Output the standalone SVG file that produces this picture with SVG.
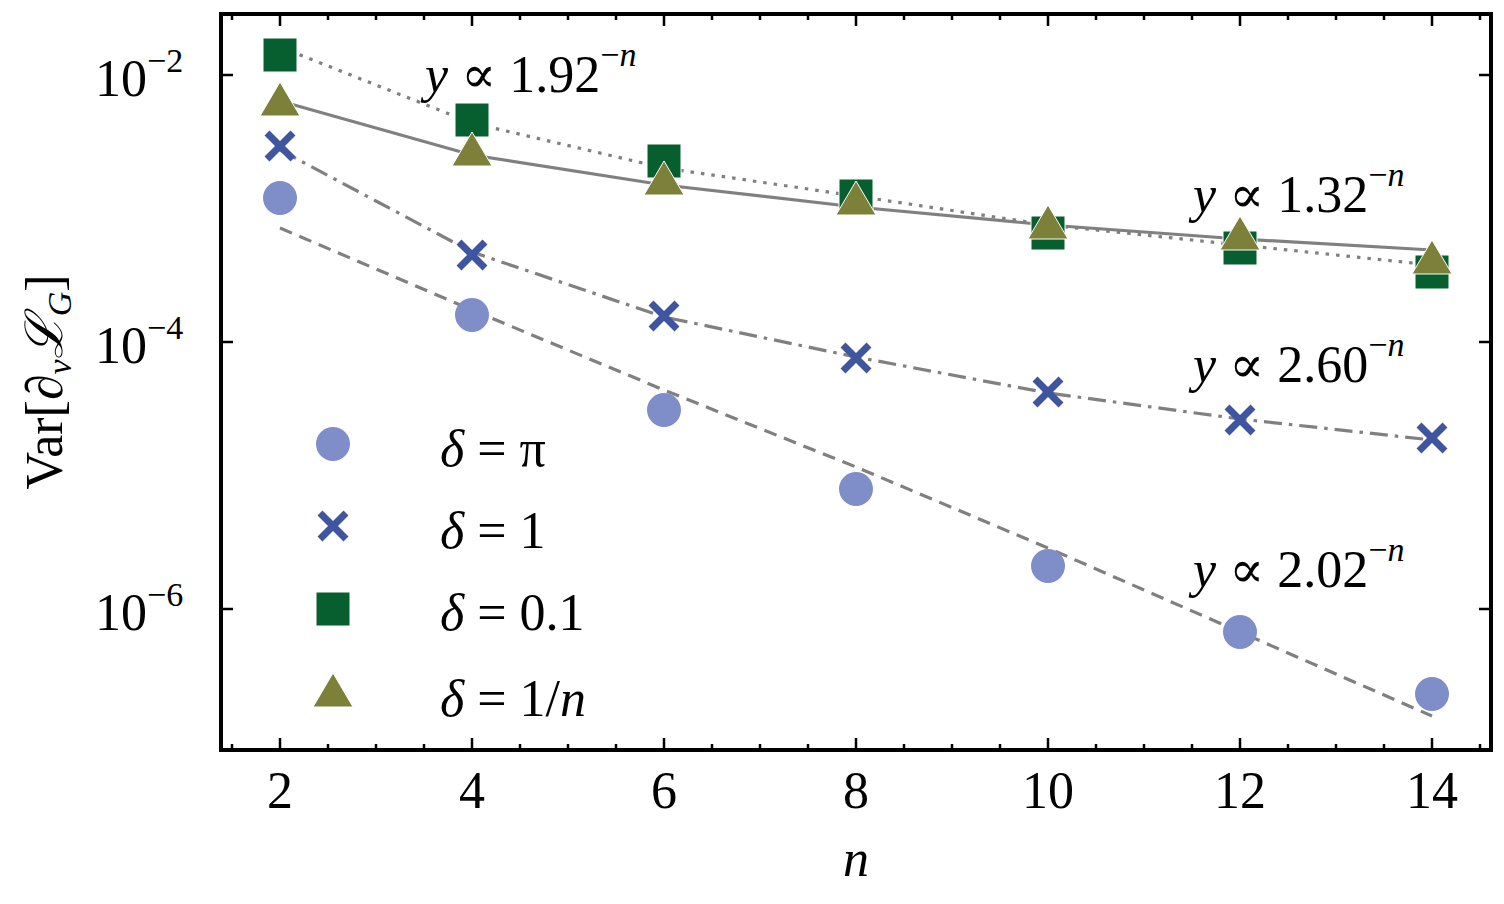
<svg xmlns="http://www.w3.org/2000/svg" width="1504" height="904" viewBox="0 0 1504 904">
<style>
text{font-family:"Liberation Serif","DejaVu Serif",serif;fill:#000}
.tk{font-size:52px}
.sup{font-size:34px}
.ann{font-size:52px}
.fit{fill:none;stroke:#808080;stroke-width:3.2}
.sq{fill:#075e2f;stroke:#fff;stroke-width:1}
.tr{fill:#7d8039;stroke:#fff;stroke-width:1}
.x{stroke:#3f55a0;stroke-width:7;fill:none}
.ci{fill:#7f8ec8}
.ax{stroke:#000;stroke-width:2.5}
</style>
<defs>
<rect id="sq" class="sq" x="-17" y="-17" width="34" height="34"/>
<polygon id="tr" class="tr" points="0,-21 20,13 -20,13"/>
<path id="xm" class="x" d="M-13,-13L13,13M-13,13L13,-13"/>
<circle id="ci" class="ci" r="17"/>
</defs>
<g id="connectors">
<polyline class="fit" stroke-dasharray="3.5,7" points="280,47 472,123 664,168 856,196 1048,225 1240,245 1432,265"/>
<polyline class="fit" points="280,101 472,155 664,185 856,207 1048,225 1240,239 1432,250"/>
<polyline class="fit" stroke-dasharray="18,7,3.5,7" points="280,150 472,252 664,317 856,357 1048,393 1240,419 1432,440"/>
<polyline class="fit" stroke-dasharray="13,8" points="280,228 472,310 664,390 856,467 1048,548 1240,632 1432,716"/>
</g>
<g id="squares">
<use href="#sq" x="280" y="55"/><use href="#sq" x="472" y="120"/><use href="#sq" x="664" y="161"/><use href="#sq" x="856" y="196"/><use href="#sq" x="1048" y="233"/><use href="#sq" x="1240" y="248"/><use href="#sq" x="1432" y="272"/>
</g>
<g id="triangles">
<use href="#tr" x="280" y="103"/><use href="#tr" x="472" y="153"/><use href="#tr" x="664" y="182"/><use href="#tr" x="856" y="202"/><use href="#tr" x="1048" y="226"/><use href="#tr" x="1240" y="237"/><use href="#tr" x="1432" y="261"/>
</g>
<g id="crosses">
<use href="#xm" x="280" y="146"/><use href="#xm" x="472" y="255"/><use href="#xm" x="664" y="316"/><use href="#xm" x="856" y="358"/><use href="#xm" x="1048" y="392"/><use href="#xm" x="1240" y="420"/><use href="#xm" x="1432" y="438"/>
</g>
<g id="circles">
<use href="#ci" x="280" y="198"/><use href="#ci" x="472" y="315"/><use href="#ci" x="664" y="410"/><use href="#ci" x="856" y="489"/><use href="#ci" x="1048" y="566"/><use href="#ci" x="1240" y="632"/><use href="#ci" x="1432" y="694"/>
</g>
<g id="frame">
<rect x="221" y="14" width="1270" height="736" fill="none" stroke="#000" stroke-width="4"/>
<path class="ax" d="M280,750v-12M472,750v-12M664,750v-12M856,750v-12M1048,750v-12M1240,750v-12M1432,750v-12M280,14v12M472,14v12M664,14v12M856,14v12M1048,14v12M1240,14v12M1432,14v12
M232,750v-6M376,750v-6M568,750v-6M760,750v-6M952,750v-6M1144,750v-6M1336,750v-6M328,750v-6M424,750v-6M520,750v-6M616,750v-6M712,750v-6M808,750v-6M904,750v-6M1000,750v-6M1096,750v-6M1192,750v-6M1288,750v-6M1384,750v-6M1480,750v-6
M232,14v6M376,14v6M568,14v6M760,14v6M952,14v6M1144,14v6M1336,14v6M328,14v6M424,14v6M520,14v6M616,14v6M712,14v6M808,14v6M904,14v6M1000,14v6M1096,14v6M1192,14v6M1288,14v6M1384,14v6M1480,14v6
M221,75h12M221,342h12M221,609h12M1491,75h-12M1491,342h-12M1491,609h-12"/>
</g>
<g id="ticklabels" class="tk" text-anchor="middle">
<text x="280" y="808">2</text><text x="472" y="808">4</text><text x="664" y="808">6</text><text x="856" y="808">8</text><text x="1048" y="808">10</text><text x="1240" y="808">12</text><text x="1432" y="808">14</text>
</g>
<g id="ylabels" class="tk">
<text x="95" y="96">10<tspan class="sup" dy="-24">−2</tspan></text>
<text x="95" y="363">10<tspan class="sup" dy="-24">−4</tspan></text>
<text x="95" y="630">10<tspan class="sup" dy="-24">−6</tspan></text>
</g>
<text x="856" y="876" font-size="52" font-style="italic" text-anchor="middle">n</text>
<text transform="translate(62,382) rotate(-90)" font-size="52" text-anchor="middle">Var[∂<tspan font-style="italic" font-size="34" dy="9">ν</tspan><tspan dy="-9" font-style="italic">ℒ</tspan><tspan font-style="italic" font-size="34" dy="9">G</tspan><tspan dy="-9">]</tspan></text>
<g id="annotations" class="ann">
<text x="425" y="92"><tspan font-style="italic">y</tspan> ∝ 1.92<tspan class="sup" dy="-26">−<tspan font-style="italic">n</tspan></tspan></text>
<text x="1193" y="212"><tspan font-style="italic">y</tspan> ∝ 1.32<tspan class="sup" dy="-26">−<tspan font-style="italic">n</tspan></tspan></text>
<text x="1193" y="382"><tspan font-style="italic">y</tspan> ∝ 2.60<tspan class="sup" dy="-26">−<tspan font-style="italic">n</tspan></tspan></text>
<text x="1193" y="587"><tspan font-style="italic">y</tspan> ∝ 2.02<tspan class="sup" dy="-26">−<tspan font-style="italic">n</tspan></tspan></text>
</g>
<g id="legend" class="ann">
<use href="#ci" x="333" y="444"/>
<use href="#xm" x="333" y="526"/>
<use href="#sq" x="333" y="609"/>
<use href="#tr" x="333" y="694"/>
<text x="440" y="466"><tspan font-style="italic">δ</tspan> = π</text>
<text x="440" y="548"><tspan font-style="italic">δ</tspan> = 1</text>
<text x="440" y="630"><tspan font-style="italic">δ</tspan> = 0.1</text>
<text x="440" y="716"><tspan font-style="italic">δ</tspan> = 1/<tspan font-style="italic">n</tspan></text>
</g>
</svg>
